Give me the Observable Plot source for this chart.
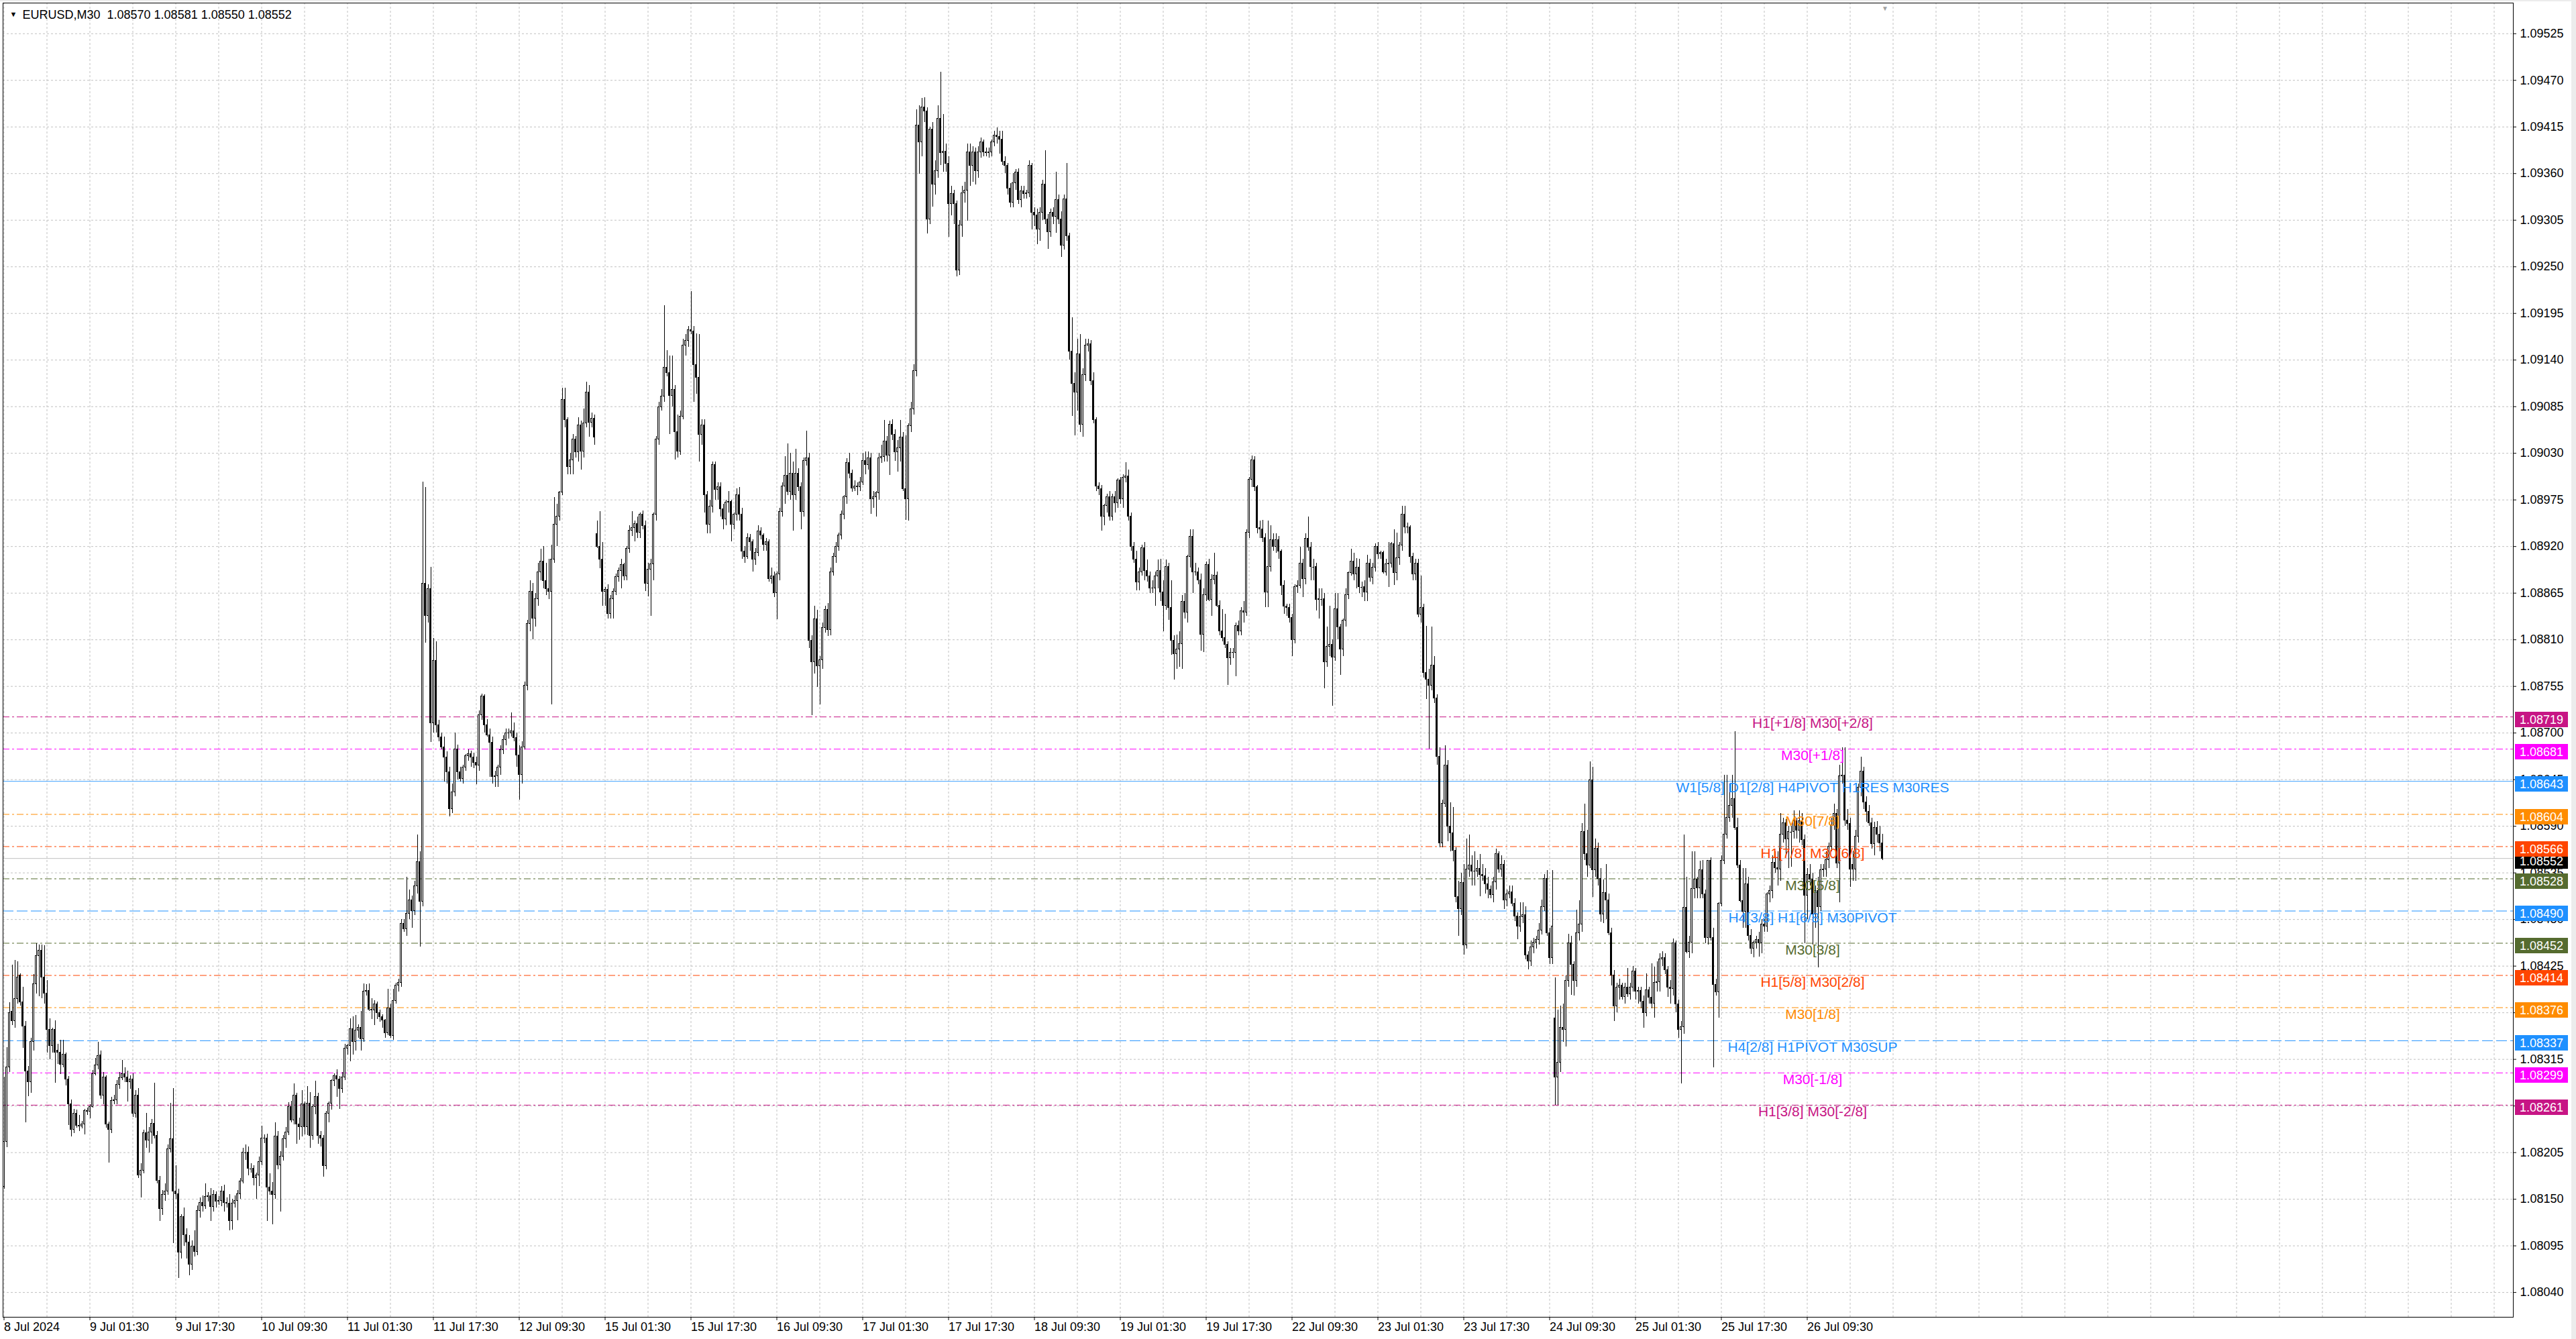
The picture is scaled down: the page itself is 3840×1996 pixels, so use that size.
<!DOCTYPE html>
<html>
<head>
<meta charset="utf-8">
<script src="https://cdn.jsdelivr.net/npm/d3@7"></script>
<script src="https://cdn.jsdelivr.net/npm/@observablehq/plot@0.6"></script>
<style>
html,body{margin:0;padding:0;background:#fff;}
#chart svg{display:block;}
</style>
</head>
<body>
<div id="chart"></div>
<script>
// ---------- DATA ----------
const symbol = "EURUSD,M30";
const base = 1.08;           // OHLC below are points (0.00001) above 1.08000, one per M30 bar
const openPts = [
165,218,306,371,360,386,414,382,354,301, 288,336,404,437,443,412,393,350,331,350,
325,323,309,321,291,262,232,251,237,236, 238,254,253,259,298,308,320,272,294,238,
232,266,267,285,293,298,294,288,291,251, 272,178,184,228,219,229,239,225,172,139,
155,159,209,221,159,156,87,129,108,99, 73,94,88,136,146,142,153,154,141,155,
147,148,159,146,145,124,145,148,156,171, 205,205,186,186,175,178,194,222,222,164,
159,155,224,190,200,221,229,259,243,272, 238,235,262,235,263,225,259,271,225,222,
189,251,263,290,295,291,280,294,328,331, 351,336,349,352,339,395,396,374,373,380,
370,365,361,346,375,343,384,402,405,475, 469,487,503,490,519,548,501,876,838,870,
712,785,709,695,683,671,654,610,630,681, 654,646,659,673,675,671,665,662,721,743,
709,697,689,648,649,659,680,692,700,700, 702,694,674,651,683,756,829,867,835,858,
890,902,879,870,867,905,946,955,984,1093, 1069,1014,1022,1046,1031,1063,1032,1065,1102,1066,
1071,935,920,905,867,869,841,858,867,884, 891,898,885,917,939,942,947,936,958,944,
876,893,899,958,1046,1084,1097,1131,1125,1098, 1105,1055,1032,1073,1157,1163,1175,1174,1134,1119,
1052,1063,981,946,967,1016,987,990,964,952, 972,973,946,958,981,958,914,908,930,925,
905,913,938,933,922,925,882,885,865,887, 961,991,1004,985,1006,981,1006,990,961,1021,
1024,809,784,834,779,786,824,845,822,890, 908,920,933,958,978,1019,1006,989,991,990,
996,1021,1016,1024,976,978,983,1024,1026,1044, 1027,1064,1052,1031,1036,1049,988,976,1062,1082,
1127,1417,1397,1438,1433,1306,1412,1347,1363,1425, 1384,1386,1372,1324,1336,1324,1246,1299,1337,1340,
1385,1369,1385,1363,1385,1397,1385,1384,1385,1397, 1405,1403,1400,1374,1369,1342,1326,1349,1361,1329,
1339,1336,1337,1369,1314,1311,1294,1314,1347,1306, 1291,1314,1309,1329,1306,1275,1330,1286,1150,1112,
1102,1147,1064,1122,1157,1159,1115,1069,991,988, 955,968,978,955,978,971,998,976,1001,1003,
955,920,905,878,890,918,891,885,871,871, 885,891,866,850,896,848,809,793,799,805,
855,842,908,932,890,890,880,816,863,898, 857,881,886,850,820,812,804,788,795,795,
826,820,844,842,936,999,1022,990,942,940, 930,866,896,928,920,928,914,874,849,848,
836,810,872,874,900,882,929,919,896,896, 857,858,858,784,802,804,789,846,825,799,
833,863,889,902,887,895,872,872,866,900, 883,895,920,911,913,890,899,900,923,889,
906,921,958,943,943,908,887,900,840,848, 771,763,756,780,741,672,570,617,662,590,
582,561,507,492,523,450,539,544,537,537, 540,533,531,522,515,509,524,557,539,545,
503,510,512,499,484,472,483,485,438,431, 447,453,456,467,495,528,464,435,363,294,
311,352,350,408,452,427,408,464,474,583, 557,544,644,538,564,528,486,511,503,464,
414,378,400,402,389,400,392,400,419,395, 396,383,370,397,388,381,405,406,433,435,
420,400,398,452,380,350,353,494,442,453, 516,527,517,538,510,458,549,458,403,394,
499,549,580,600,614,622,588,544,502,489, 522,461,446,453,456,452,474,472,510,514,
547,541,539,580,594,575,583,583,596,585, 596,574,508,533,527,486,514,495,538,539,
550,566,591,605,546,649,650,597,593,545, 539,578,636,655,618,607,594,569,588,580,
570];
const highPts = [
294,329,382,426,432,430,416,400,360,307, 340,415,452,450,450,449,408,363,352,361,
333,338,338,323,295,267,256,255,249,242, 256,258,262,302,316,335,325,300,296,241,
270,273,290,300,314,305,301,296,298,278, 281,192,232,251,235,244,287,230,177,160,
168,214,263,281,190,162,132,140,115,107, 101,113,142,152,154,168,158,163,160,159,
153,165,167,152,156,150,154,160,175,210, 214,212,192,190,181,200,236,226,227,180,
170,240,230,206,225,235,264,266,286,275, 246,278,265,283,276,262,289,275,230,225,
254,265,291,298,303,295,300,333,333,363, 365,367,356,372,404,403,404,387,384,383,
373,368,362,398,380,398,405,410,480,480, 530,515,508,525,580,560,996,990,875,896,
812,808,715,700,695,678,660,640,700,686, 660,662,675,680,679,676,672,726,746,745,
716,705,695,655,662,685,697,705,705,724, 712,700,685,690,760,833,880,877,865,900,
917,920,900,905,922,978,970,985,1107,1107, 1072,1030,1052,1050,1072,1068,1082,1114,1110,1078,
1075,950,961,925,872,875,862,870,888,895, 905,900,920,945,961,950,955,960,962,950,
900,905,960,1050,1090,1105,1204,1151,1145,1145, 1110,1075,1080,1165,1170,1180,1221,1180,1171,1170,
1070,1070,985,975,1020,1020,995,995,970,975, 985,975,960,988,990,965,920,935,934,928,
918,945,942,935,930,928,895,890,890,965, 995,1026,1041,1030,1020,1035,1012,995,1025,1056,
1030,815,850,845,790,830,850,853,895,912, 925,936,962,980,1024,1030,1010,998,995,1002,
1030,1032,1032,1030,985,985,1030,1040,1069,1050, 1068,1070,1058,1045,1069,1055,1051,1065,1090,1135,
1435,1440,1449,1450,1438,1415,1420,1375,1440,1480, 1430,1395,1380,1345,1340,1328,1305,1345,1350,1395,
1395,1392,1390,1392,1402,1400,1390,1390,1400,1410, 1414,1410,1410,1380,1372,1348,1360,1365,1366,1345,
1345,1340,1375,1372,1320,1318,1320,1352,1387,1312, 1318,1320,1362,1335,1315,1335,1372,1290,1190,1125,
1165,1170,1130,1165,1165,1163,1125,1072,995,992, 970,982,985,982,985,1000,1002,1005,1019,1010,
960,925,915,895,922,925,904,890,880,890, 904,905,880,904,900,880,815,816,820,862,
865,910,940,940,900,895,888,870,902,905, 887,912,890,856,846,840,808,800,800,830,
832,848,855,940,1002,1027,1026,992,950,951, 935,950,945,935,935,932,916,880,852,852,
840,875,880,919,905,935,955,925,905,900, 870,870,865,825,850,810,865,865,828,835,
870,890,917,912,906,905,878,880,910,905, 900,923,925,915,915,905,925,925,940,936,
925,968,968,948,945,912,905,905,885,852, 826,775,825,790,745,683,621,685,668,618,
612,565,525,535,545,575,580,555,560,550, 557,545,540,530,520,530,563,560,555,550,
515,520,520,505,488,500,500,495,442,455, 458,460,475,503,533,538,470,538,411,373,
378,380,414,463,460,430,491,502,593,616, 585,666,660,575,570,540,527,545,510,470,
420,405,410,405,405,422,405,425,422,400, 400,390,416,400,428,424,430,440,442,440,
425,408,457,455,385,360,580,530,460,560, 560,530,549,550,515,550,553,470,410,500,
555,650,650,640,650,702,600,550,540,540, 530,468,455,460,465,480,480,512,520,555,
560,560,605,600,598,590,590,608,600,608, 605,580,540,545,535,520,530,545,545,560,
570,600,616,610,662,683,683,610,600,560, 585,640,672,660,625,615,600,595,596,590,
581];
const lowPts = [
162,211,300,355,352,380,378,328,240,271, 275,325,392,389,387,380,323,315,323,287,
309,297,305,284,237,224,228,234,230,233, 226,249,245,258,296,303,268,262,234,193,
228,262,262,280,290,288,265,280,247,246, 175,152,180,210,205,215,221,168,124,131,
148,155,205,98,150,57,80,95,80,60, 66,82,84,128,135,138,147,124,135,140,
143,141,135,140,113,114,140,125,150,168, 196,178,181,166,150,165,190,216,124,155,
120,150,185,135,195,210,225,240,238,215, 220,224,226,225,210,220,250,215,212,176,
185,240,255,283,270,256,275,290,320,312, 320,325,340,325,335,390,372,362,355,362,
359,352,340,343,340,338,380,395,400,465, 460,480,470,485,510,448,495,806,830,689,
700,700,690,680,642,640,601,605,625,645, 642,640,655,667,660,658,639,655,715,700,
695,648,640,636,636,650,675,685,693,695, 690,660,621,640,680,750,820,810,825,850,
880,870,862,858,733,900,920,950,980,1060, 1005,1005,1005,1025,1020,1010,1025,1060,1049,1060,
1040,918,894,850,850,835,835,835,862,878, 870,880,880,912,932,926,930,930,940,867,
861,838,880,950,1040,1080,1090,1120,1052,1085, 1022,1025,1028,1070,1145,1155,1170,1090,1100,1020,
1040,960,935,935,960,975,975,955,940,945, 960,926,940,950,950,905,900,905,915,890,
898,908,928,915,915,878,876,860,834,880, 955,970,980,975,938,975,985,940,955,1015,
800,721,770,754,733,775,818,814,815,885, 900,915,928,952,970,1000,984,985,980,985,
992,1005,1010,958,965,955,975,1018,1020,1020, 1004,1045,1021,1008,1020,985,951,950,1055,1075,
1120,1359,1380,1420,1289,1300,1321,1335,1355,1370, 1362,1362,1285,1310,1300,1238,1240,1285,1325,1304,
1345,1350,1347,1355,1378,1380,1380,1378,1380,1392, 1395,1383,1370,1360,1335,1320,1320,1340,1324,1320,
1330,1330,1332,1294,1298,1276,1280,1305,1300,1271, 1285,1300,1290,1300,1261,1270,1280,1140,1074,1051,
1080,1055,1049,1115,1150,1110,1065,985,980,938, 945,960,950,950,960,965,970,965,995,950,
915,900,868,868,885,880,878,865,865,850, 870,855,820,845,833,792,763,775,778,775,
835,830,895,865,885,875,797,795,855,855, 838,875,848,815,808,800,756,780,788,767,
815,815,830,838,930,990,985,935,930,925, 848,848,890,915,912,905,862,840,838,830,
790,805,865,870,860,875,915,880,880,844, 835,850,752,778,790,732,785,810,768,790,
825,858,885,880,870,865,860,855,855,878, 875,890,905,905,888,885,872,895,874,880,
898,915,935,935,900,880,880,836,830,765, 740,681,750,735,662,565,565,612,572,560,
548,500,460,485,438,445,530,520,520,530, 507,525,510,505,505,500,515,535,530,492,
495,505,495,478,456,465,475,433,421,425, 440,445,450,462,490,460,427,427,261,261,
300,335,330,400,391,390,400,455,465,550, 530,540,506,530,520,477,475,480,461,402,
360,370,385,385,380,388,385,395,385,380, 375,352,365,380,375,364,395,395,425,415,
388,380,390,370,340,286,345,440,434,440, 505,505,505,505,452,450,455,305,390,364,
495,545,575,595,600,585,540,500,470,470, 455,439,435,445,436,440,465,465,500,505,
535,520,525,570,555,540,542,575,575,570, 567,452,480,520,450,470,423,490,530,530,
540,560,585,540,500,640,590,585,518,525, 525,570,625,610,595,590,563,555,570,560,
550];
const closePts = [
218,306,370,360,386,412,382,354,301,288, 336,404,437,443,412,393,350,331,350,323,
323,309,321,291,262,232,251,237,236,238, 254,253,259,298,308,319,272,294,238,232,
266,267,285,293,298,294,288,291,251,272, 178,184,228,219,229,239,225,172,139,155,
159,209,221,159,156,87,129,108,99,73, 94,88,136,146,142,153,154,141,155,147,
148,159,146,145,124,145,148,156,171,205, 205,186,186,175,178,194,222,222,164,159,
155,224,190,200,221,229,259,243,272,238, 235,262,235,263,225,259,271,225,222,189,
251,263,290,295,291,280,294,328,331,351, 336,349,352,339,395,396,374,373,380,370,
365,361,346,375,343,384,402,405,475,469, 487,503,490,519,548,501,876,838,870,712,
785,709,695,683,671,654,610,630,681,654, 646,659,673,675,671,665,662,721,743,709,
697,689,648,649,659,680,692,700,700,702, 694,674,651,683,756,829,867,835,858,890,
902,879,870,867,905,946,955,984,1093,1069, 1014,1022,1046,1031,1063,1032,1065,1102,1066,1071,
1049,920,905,867,869,841,858,867,884,891, 898,885,917,939,942,947,936,958,944,876,
893,899,958,1046,1084,1097,1131,1125,1098,1105, 1055,1032,1073,1157,1163,1175,1174,1134,1119,1052,
1063,981,946,967,1016,987,990,964,952,972, 973,946,958,981,958,914,908,930,925,905,
913,938,933,922,925,882,885,865,887,961, 991,1004,985,1006,981,1006,990,961,1021,1024,
809,784,834,779,786,824,845,822,890,908, 920,933,958,978,1019,1006,989,991,990,996,
1021,1016,1024,976,978,983,1024,1026,1044,1027, 1064,1052,1031,1036,1049,988,976,1062,1082,1127,
1417,1397,1438,1433,1306,1412,1347,1363,1425,1384, 1386,1372,1324,1336,1324,1246,1299,1337,1340,1385,
1369,1385,1363,1385,1397,1385,1384,1385,1397,1405, 1403,1400,1374,1369,1342,1326,1349,1361,1329,1339,
1336,1337,1369,1314,1311,1294,1314,1347,1306,1291, 1314,1309,1329,1306,1275,1330,1286,1150,1112,1102,
1147,1064,1122,1157,1159,1115,1069,991,988,955, 968,978,955,978,971,998,976,1001,1003,955,
920,905,878,890,918,891,885,871,871,885, 891,866,850,896,848,809,793,799,805,855,
842,908,932,890,890,880,816,863,898,857, 881,886,850,820,812,804,788,795,795,826,
820,844,842,936,999,1022,990,942,940,930, 866,896,928,920,928,914,874,849,848,836,
810,872,874,900,882,929,919,896,896,857, 858,858,784,802,804,789,846,825,799,833,
863,889,902,887,895,872,872,866,900,883, 895,920,911,913,890,899,900,923,889,906,
921,958,943,943,908,887,900,840,848,771, 763,756,780,741,672,570,617,662,590,582,
561,507,492,523,450,539,544,537,537,540, 533,531,522,515,509,524,557,539,545,503,
510,512,499,484,472,483,485,438,431,447, 453,456,467,495,528,464,435,472,294,311,
352,350,408,452,427,408,464,474,583,557, 544,644,538,564,528,486,511,503,464,414,
378,400,402,389,400,392,400,419,395,396, 383,370,397,388,381,405,406,433,435,420,
400,398,452,380,350,353,494,442,453,516, 527,517,538,510,458,549,458,403,394,499,
549,580,600,614,622,588,544,502,489,522, 461,446,453,456,452,474,472,510,514,547,
541,539,580,594,575,583,583,596,585,596, 574,508,533,527,486,514,495,538,539,550,
566,591,605,546,649,650,597,593,539,539, 578,636,655,618,607,594,569,588,580,570,
552];

// time-axis labels (one every 32 bars = 16 hours of M30 trading bars)
const timeLabels = ["8 Jul 2024","9 Jul 01:30","9 Jul 17:30","10 Jul 09:30","11 Jul 01:30","11 Jul 17:30",
  "12 Jul 09:30","15 Jul 01:30","15 Jul 17:30","16 Jul 09:30","17 Jul 01:30","17 Jul 17:30","18 Jul 09:30",
  "19 Jul 01:30","19 Jul 17:30","22 Jul 09:30","23 Jul 01:30","23 Jul 17:30","24 Jul 09:30","25 Jul 01:30",
  "25 Jul 17:30","26 Jul 09:30"];
const barsPerLabel = 32;
// price-axis ticks
const priceTicks = [1.08040,1.08095,1.08150,1.08205,1.08260,1.08315,1.08370,1.08425,1.08480,1.08535,
  1.08590,1.08645,1.08700,1.08755,1.08810,1.08865,1.08920,1.08975,1.09030,1.09085,1.09140,1.09195,
  1.09250,1.09305,1.09360,1.09415,1.09470,1.09525];
// Murrey-math / pivot levels
const levelPrice = [1.08719,1.08681,1.08643,1.08604,1.08566,1.08528,1.08490,1.08452,1.08414,1.08376,1.08337,1.08299,1.08261];
const levelLabel = ["H1[+1/8] M30[+2/8]","M30[+1/8]","W1[5/8] D1[2/8] H4PIVOT H1RES M30RES","M30[7/8]",
  "H1[7/8] M30[6/8]","M30[5/8]","H4[3/8] H1[6/8] M30PIVOT","M30[3/8]","H1[5/8] M30[2/8]","M30[1/8]",
  "H4[2/8] H1PIVOT M30SUP","M30[-1/8]","H1[3/8] M30[-2/8]"];
const levelColor = ["#C71585","#FF00FF","#1E90FF","#FF8C00","#FF4500","#556B2F","#1E90FF","#556B2F",
  "#FF4500","#FF8C00","#1E90FF","#FF00FF","#C71585"];
const levelStyle = ["dashdot","dashdot","solid","dashdot","dashdot","dashdot","dash","dashdot",
  "dashdot","dashdot","dash","dashdot","dashdot"];

// ---------- BUILD ----------
const FONT = "'Liberation Sans', Arial, sans-serif";
const bars = closePts.map((c, i) => ({
  i, o: base + openPts[i] / 1e5, h: base + highPts[i] / 1e5, l: base + lowPts[i] / 1e5, c: base + c / 1e5
}));
const n = bars.length;
const last = bars[n - 1];
const bull = bars.filter(d => d.c - d.o >= 0.000005);
const bear = bars.filter(d => d.o - d.c >= 0.000005);
const doji = bars.filter(d => Math.abs(d.c - d.o) < 0.000005);
const tickBars = timeLabels.map((_, k) => k * barsPerLabel);
const labelOf = new Map(tickBars.map((b, k) => [b, timeLabels[k]]));
const gridBars = d3.range(0, 936, barsPerLabel / 2);
const dashes = {dashdot: "10,4,3,4", dash: "16,5", solid: null};
const labelBar = n - 27;

const levelMarks = levelPrice.map((p, k) =>
  Plot.ruleY([p], {stroke: levelColor[k], strokeWidth: 1, strokeOpacity: levelStyle[k] === "solid" ? 0.85 : 1,
    strokeDasharray: dashes[levelStyle[k]]})
);
const labelMarks = levelPrice.map((p, k) =>
  Plot.text([p], {x: () => labelBar, y: d => d, text: () => levelLabel[k], fill: levelColor[k],
    fontSize: 21, dy: 10, lineAnchor: "middle", textAnchor: "middle"})
);

function priceBoxes(index, scales, values, dims) {
  const g = d3.create("svg:g").attr("font-family", FONT).attr("font-size", 18).attr("text-anchor", "start");
  const x0 = dims.width - dims.marginRight + 3;
  const items = [{p: last.c, color: "#000000"}].concat(levelPrice.map((p, k) => ({p, color: levelColor[k]})));
  for (const it of items) {
    const yc = scales.y(it.p) + 4;
    g.append("rect").attr("x", x0).attr("y", Math.round(yc - 11.5)).attr("width", 79).attr("height", 23)
      .attr("fill", it.color);
    g.append("text").attr("x", x0 + 7).attr("y", yc).attr("dy", "0.36em").attr("fill", "white")
      .attr("text-anchor", "start").text(it.p.toFixed(5));
  }
  // window edges
  g.append("rect").attr("x", dims.width - 7).attr("y", 0).attr("width", 7).attr("height", dims.height).attr("fill", "#ececec");
  g.append("rect").attr("x", 0).attr("y", 0).attr("width", dims.width).attr("height", 2).attr("fill", "#ececec");
  return g.node();
}

const header = `${symbol}\u00A0\u00A0${last.o.toFixed(5)} ${last.h.toFixed(5)} ${last.l.toFixed(5)} ${last.c.toFixed(5)}`;

const chart = Plot.plot({
  width: 3840,
  height: 1996,
  marginLeft: 4,
  marginTop: 4,
  marginRight: 94,
  marginBottom: 33,
  style: {fontFamily: FONT, background: "white", color: "black"},
  x: {type: "linear", domain: [-0.375, 935.125], axis: null, label: null},
  y: {type: "linear", domain: [1.080108, 1.095612], axis: null, label: null},
  marks: [
    Plot.gridY(priceTicks, {stroke: "#c0c0c0", strokeOpacity: 1, strokeDasharray: "3,3"}),
    Plot.gridX(gridBars, {stroke: "#c0c0c0", strokeOpacity: 1, strokeDasharray: "3,3"}),
    ...levelMarks,
    Plot.ruleY([last.c], {stroke: "#c0c0c0", strokeWidth: 1}),
    Plot.ruleX(bars, {x: "i", y1: "l", y2: "h", stroke: "black", strokeWidth: 1, shapeRendering: "crispEdges"}),
    Plot.rect(bull, {x1: d => d.i - 0.25, x2: d => d.i + 0.25, y1: "o", y2: "c", fill: "white", stroke: "black",
      strokeWidth: 1, shapeRendering: "crispEdges"}),
    Plot.rect(bear, {x1: d => d.i - 0.25, x2: d => d.i + 0.25, y1: "o", y2: "c", fill: "black", stroke: "black",
      strokeWidth: 1, shapeRendering: "crispEdges"}),
    Plot.ruleY(doji, {y: "c", x1: d => d.i - 0.375, x2: d => d.i + 0.375, stroke: "black", shapeRendering: "crispEdges"}),
    ...labelMarks,
    Plot.axisY(priceTicks, {anchor: "right", tickSize: 4, tickPadding: 6, tickFormat: d => d.toFixed(5),
      fontSize: 18, textAnchor: "start", label: null}),
    Plot.axisX(tickBars, {anchor: "bottom", tickSize: 5, tickPadding: 3, tickFormat: d => labelOf.get(d),
      fontSize: 18, textAnchor: "start", dx: 0, label: null}),
    Plot.frame({stroke: "black"}),
    Plot.text([n], {x: d => d, frameAnchor: "top", dy: 4, text: () => "\u25BC", fill: "#a0a0a0", fontSize: 10}),
    Plot.text(["\u25BC"], {frameAnchor: "top-left", dx: 10, dy: 17, fontSize: 11, fill: "black", textAnchor: "start", lineAnchor: "middle"}),
    Plot.text([header], {frameAnchor: "top-left", dx: 29, dy: 18, fontSize: 18, fill: "black",
      textAnchor: "start", lineAnchor: "middle"}),
    priceBoxes
  ]
});
document.getElementById("chart").append(chart);
</script>
</body>
</html>
